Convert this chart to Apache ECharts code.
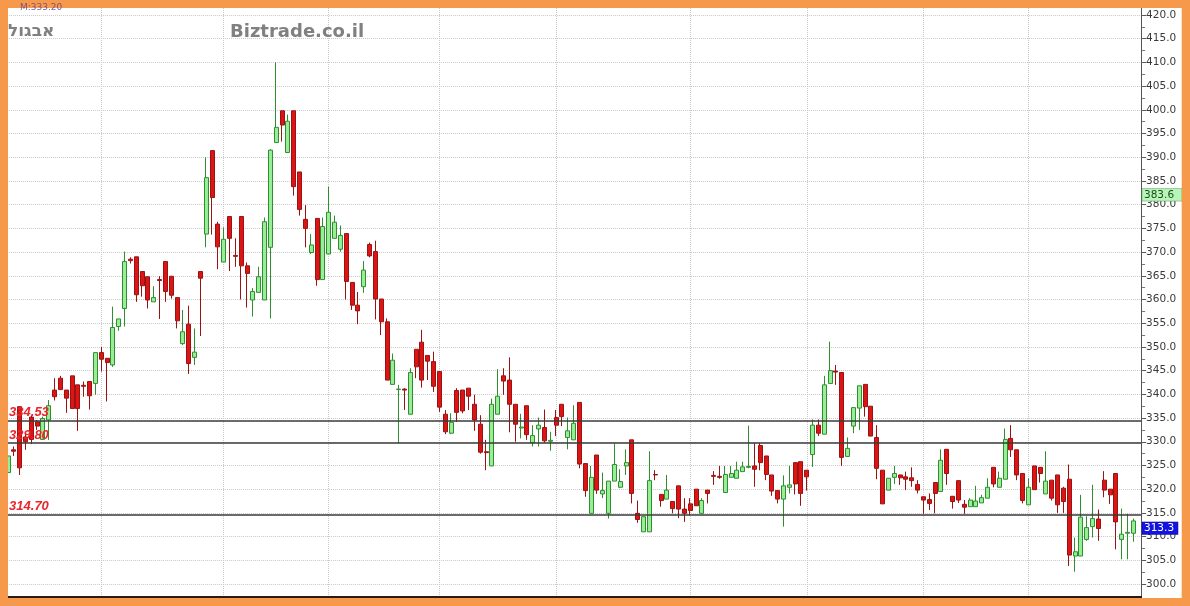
<!DOCTYPE html>
<html><head><meta charset="utf-8">
<script src="https://cdn.jsdelivr.net/npm/echarts@6/dist/echarts.min.js"></script>
<style>html,body{margin:0;padding:0;background:#fff}#c{width:1190px;height:606px}</style>
</head><body><div id="c"></div>
<script>
// [open, close, low, high]
const candles = [
[323.5,327.0,322.5,327.5],[328.3,328.0,327.0,329.0],[337.4,324.5,323.0,337.4],[331.0,330.0,328.3,332.0],
[335.2,330.5,329.5,335.5],[334.2,333.3,332.5,334.6],[330.5,334.9,330.4,335.3],[334.6,337.6,330.4,338.8],
[340.9,339.5,338.7,343.4],[343.4,341.0,341.0,343.9],[340.9,339.2,336.1,340.9],[343.9,337.0,337.0,343.9],
[342.0,337.0,332.3,342.0],[341.9,341.7,339.5,342.7],[342.7,339.7,336.8,342.7],[342.3,348.8,339.9,348.8],
[348.8,347.4,344.8,350.0],[347.6,346.7,338.5,347.6],[346.2,354.1,345.8,358.5],[354.3,355.9,353.4,355.9],
[358.1,368.0,354.3,370.1],[368.5,368.2,367.6,368.9],[369.0,361.0,359.5,369.0],[365.9,362.9,360.6,365.9],
[364.8,359.9,358.1,364.8],[359.5,360.4,359.5,362.8],[364.2,364.0,355.9,364.9],[368.0,361.7,359.5,368.0],
[364.9,360.9,360.2,364.9],[360.4,355.5,353.9,360.4],[350.7,353.2,350.4,357.8],[354.8,346.5,344.3,358.7],
[347.8,348.9,346.2,353.9],[365.9,364.5,352.3,365.9],[373.8,385.7,371.0,390.0],[391.4,381.5,373.7,391.4],
[375.9,371.1,366.4,376.4],[367.9,372.7,367.9,375.2],[377.5,372.9,366.0,377.5],[369.3,369.1,366.9,372.9],
[377.5,367.1,360.0,377.5],[367.1,365.5,358.3,367.8],[359.9,361.7,356.4,362.4],[361.5,364.8,361.5,366.9],
[359.9,376.4,359.9,377.3],[371.0,391.5,356.0,391.7],[393.1,396.3,393.1,410.0],[399.8,396.8,393.3,399.8],
[391.0,397.6,391.0,399.0],[399.8,383.8,381.9,399.8],[386.9,379.0,377.7,386.9],[376.9,375.0,371.0,379.9],
[369.9,371.5,369.6,373.8],[377.1,364.2,362.9,377.1],[364.2,375.4,364.2,377.3],[369.6,378.4,369.6,383.8],
[372.9,376.3,372.9,377.7],[370.6,373.5,370.1,375.6],[373.9,363.8,360.0,373.9],[363.6,358.8,357.8,363.6],
[358.8,357.6,354.8,361.6],[362.7,366.2,361.4,368.1],[371.6,369.2,368.9,372.0],[370.1,360.1,355.8,372.4],
[360.1,355.3,352.5,360.1],[355.3,343.0,343.0,356.0],[342.1,347.2,342.1,348.6],[341.0,341.1,329.7,342.0],
[341.1,340.9,336.7,341.3],[335.8,344.6,335.8,345.5],[349.5,345.8,343.4,349.5],[351.0,343.0,341.4,353.6],
[348.2,347.0,343.0,348.2],[346.9,341.7,340.5,349.0],[344.8,337.3,336.3,344.8],[335.8,332.1,331.6,336.7],
[331.8,334.1,331.6,336.0],[340.8,336.2,334.2,341.3],[340.9,336.5,336.0,340.9],[341.3,339.6,336.7,341.3],
[337.9,334.6,332.3,339.9],[333.7,327.8,327.5,335.6],[327.9,327.7,324.0,330.4],[324.9,337.9,324.9,339.1],
[335.8,339.6,335.8,345.3],[343.9,342.8,339.9,345.5],[343.0,337.9,332.0,347.8],[337.9,333.7,330.0,337.9],
[332.9,333.1,330.7,335.9],[337.6,331.5,330.4,337.6],[329.8,331.3,329.0,333.5],[332.7,333.5,329.0,335.1],
[333.0,330.2,329.8,336.8],[330.1,330.3,328.1,332.1],[335.1,333.5,331.2,336.7],[337.9,335.3,333.3,337.9],
[330.9,332.3,328.4,335.1],[330.4,333.9,330.4,337.7],[338.3,325.3,324.4,338.3],[325.4,319.7,318.4,325.4],
[314.9,322.5,314.9,324.9],[327.2,319.8,319.0,327.2],[319.0,319.7,318.1,323.5],[314.9,321.7,313.8,321.7],
[321.7,325.2,321.7,329.6],[320.4,321.6,320.2,324.2],[324.9,325.6,323.0,328.4],[330.4,319.1,317.0,330.4],
[314.9,313.6,312.9,317.6],[311.0,314.2,311.0,314.2],[311.0,321.8,311.0,328.0],[323.1,323.0,321.9,324.0],
[318.9,317.6,316.3,318.9],[317.9,319.8,317.9,323.0],[317.4,315.9,314.9,317.4],[320.7,315.8,313.9,320.7],
[315.8,314.9,313.1,318.1],[316.9,315.5,314.5,318.1],[320.0,316.5,316.5,320.0],[314.9,317.6,314.9,318.1],
[319.8,319.1,317.0,319.8],[322.9,322.7,320.9,323.8],[322.7,322.5,322.2,324.9],[319.3,323.1,319.3,324.9],
[322.5,323.3,322.5,324.9],[322.3,324.0,322.3,325.8],[323.7,324.7,323.7,325.8],[324.6,324.8,324.4,333.4],
[324.9,324.2,320.5,329.7],[329.2,325.6,324.0,329.7],[327.0,323.1,321.9,327.0],[323.0,319.6,318.6,323.0],
[319.7,317.9,317.0,319.7],[317.9,320.7,312.1,322.9],[320.4,320.9,319.1,324.9],[325.6,321.1,318.9,325.6],
[325.8,319.1,316.5,325.8],[324.0,322.6,319.7,324.0],[327.3,333.5,324.7,334.7],[333.5,331.8,331.2,334.7],
[331.6,342.0,331.6,343.9],[342.3,345.0,342.3,351.1],[344.9,344.7,342.0,346.2],[344.6,326.7,324.9,344.6],
[326.9,328.6,326.9,330.9],[333.3,337.2,331.8,337.2],[337.1,341.8,332.5,341.8],[342.1,337.4,335.3,342.1],
[337.5,331.2,331.2,337.5],[330.9,324.4,322.1,333.5],[324.0,316.9,316.9,324.0],[319.8,322.3,319.8,322.3],
[322.5,323.3,321.1,324.9],[323.0,322.4,320.9,323.0],[322.6,322.1,319.8,323.7],[322.4,321.8,320.5,324.6],
[321.0,319.8,319.1,321.9],[318.4,317.7,314.8,318.4],[317.8,317.0,315.6,319.1],[321.4,319.1,314.9,321.4],
[319.5,326.1,319.5,328.4],[328.4,323.3,320.9,328.4],[318.5,317.4,315.9,318.5],[321.8,317.7,317.1,321.8],
[316.8,316.2,314.8,317.7],[316.3,317.7,316.3,318.1],[316.3,317.5,316.3,320.7],[317.1,318.2,317.1,318.8],
[318.1,320.4,318.1,322.3],[324.6,321.1,320.4,324.6],[320.4,322.3,320.4,323.7],[322.1,330.5,322.1,332.8],
[330.7,328.3,326.8,333.5],[328.3,323.0,321.9,328.3],[323.3,317.6,317.0,323.3],[316.7,320.4,316.7,322.3],
[324.9,319.9,319.9,324.9],[324.6,323.3,321.4,324.6],[319.0,321.7,319.0,328.0],[321.9,318.1,317.6,321.9],
[323.0,316.7,315.0,323.0],[320.2,317.4,315.0,320.5],[322.1,306.1,303.8,325.2],[305.9,306.8,302.6,309.8],
[305.9,314.1,305.9,318.8],[309.4,311.9,309.1,314.3],[312.1,313.8,309.8,320.9],[313.7,311.7,309.1,315.7],
[321.9,319.8,318.3,323.8],[320.0,318.8,316.9,320.0],[323.3,313.1,307.3,323.3],[309.4,310.5,305.2,315.9],
[310.7,310.9,305.2,314.8],[310.7,313.3,308.9,313.8]
];
const levels = [334.53, 329.80, 314.70];
const tagValues = [383.6, 313.3];
const monthStarts = [16, 37, 55, 74, 94, 117, 137, 157, 175];
const yMin = 300, yMax = 420, yStep = 5;
const stockName = 'אבגול';
const watermark = 'Biztrade.co.il';

const slots = candles.length + 1;
const cats = Array.from({length: slots}, (_, i) => 'd' + i);
const cats2 = cats.slice(0, candles.length);

const chart = echarts.init(document.getElementById('c'), null, {renderer: 'canvas'});
const W = 1190, H = 606;
const orange = '#F7994B';

const option = {
  animation: false,
  backgroundColor: '#ffffff',
  grid: [
    {left: 5.085, right: 47.9, top: 15, bottom: 22},
    {left: 8, right: 56.7, top: 8, bottom: 9}
  ],
  xAxis: [
    {type: 'category', gridIndex: 0, data: cats, boundaryGap: true,
     axisLine: {show: false}, axisTick: {show: false}, axisLabel: {show: false}, splitLine: {show: false}},
    {type: 'category', gridIndex: 1, data: cats2, boundaryGap: false,
     axisLine: {show: false}, axisTick: {show: false}, axisLabel: {show: false},
     splitLine: {show: true, interval: (i) => monthStarts.includes(i),
       lineStyle: {color: '#c9c9c9', type: [1, 1], width: 1}}}
  ],
  yAxis: [
    {type: 'value', gridIndex: 0, position: 'right', min: yMin, max: yMax, interval: yStep,
     axisLine: {show: false},
     axisTick: {show: true, inside: false, length: 4, lineStyle: {color: '#555'}},
     minorTick: {show: true, splitNumber: 2, length: 3, lineStyle: {color: '#777'}},
     axisLabel: {margin: 4, color: '#3a3a3a', fontSize: 10.5, fontFamily: 'DejaVu Sans',
       formatter: (v) => v.toFixed(1)},
     splitLine: {show: true, lineStyle: {color: '#c9c9c9', type: [1, 1], width: 1}}},
    {type: 'value', gridIndex: 1, show: false, min: 0, max: 1}
  ],
  series: [{
    type: 'candlestick', xAxisIndex: 0, yAxisIndex: 0,
    data: candles, barWidth: 4.5,
    itemStyle: {color: '#97ee97', color0: '#dd1414', borderColor: '#2f8f2f', borderColor0: '#9a1212', borderWidth: 1},
    markLine: {
      silent: true, symbol: ['none', 'none'], animation: false,
      lineStyle: {color: '#3a3a3a', width: 1.5, type: 'solid'},
      label: {show: true, position: 'insideStartTop', distance: [4, 1],
        formatter: (p) => p.value.toFixed(2),
        color: '#e8262b', fontSize: 13, fontWeight: 'bold', fontStyle: 'italic', fontFamily: 'Liberation Sans'},
      data: levels.map(v => ({yAxis: v}))
    }
  }],
  graphic: []
};
chart.setOption(option);

const g = [];
g.push({type: 'line', shape: {x1: 1141.5, y1: 8, x2: 1141.5, y2: 597}, style: {stroke: '#555', lineWidth: 1}, z: 90});
g.push({type: 'line', shape: {x1: 8, y1: 597, x2: 1142, y2: 597}, style: {stroke: '#2a1a10', lineWidth: 2}, z: 90});
g.push({type: 'rect', shape: {x: 0, y: 0, width: W, height: 8}, style: {fill: orange}, z: 100});
g.push({type: 'rect', shape: {x: 0, y: 0, width: 8, height: H}, style: {fill: orange}, z: 100});
g.push({type: 'rect', shape: {x: 1181.7, y: 0, width: W - 1181.7, height: H}, style: {fill: orange}, z: 100});
g.push({type: 'rect', shape: {x: 0, y: 598, width: W, height: H - 598}, style: {fill: orange}, z: 100});
g.push({type: 'text', x: 8, y: 32, z: 95, style: {text: stockName, fill: '#808080', font: 'bold 17px "DejaVu Sans"', verticalAlign: 'middle', align: 'left'}});
g.push({type: 'text', x: 230, y: 32, z: 95, style: {text: watermark, fill: '#808080', font: 'bold 18px "DejaVu Sans"', verticalAlign: 'middle', align: 'left'}});
g.push({type: 'text', x: 20, y: 12, z: 110, style: {text: 'M:333.20', fill: '#5b3f8c', font: '9px "DejaVu Sans"', verticalAlign: 'bottom', align: 'left', opacity: 0.8}});
const tagStyles = [{bg: '#b8f5b8', fg: '#1b4d1b', w: 40}, {bg: '#1414e0', fg: '#ffffff', w: 36}];
tagValues.forEach((v, i) => {
  const yy = chart.convertToPixel({yAxisIndex: 0}, v) + 1;
  const s = tagStyles[i];
  g.push({type: 'rect', shape: {x: 1142, y: yy, width: s.w, height: 12.5}, style: {fill: s.bg, stroke: i === 0 ? '#5a9a5a' : '#0a0a90', lineWidth: 0.5}, z: 96});
  g.push({type: 'text', x: 1144, y: yy + 6.5, z: 97, style: {text: v.toFixed(1), fill: s.fg, font: '10.5px "DejaVu Sans"', verticalAlign: 'middle', align: 'left'}});
});
chart.setOption({graphic: g});
</script></body></html>
